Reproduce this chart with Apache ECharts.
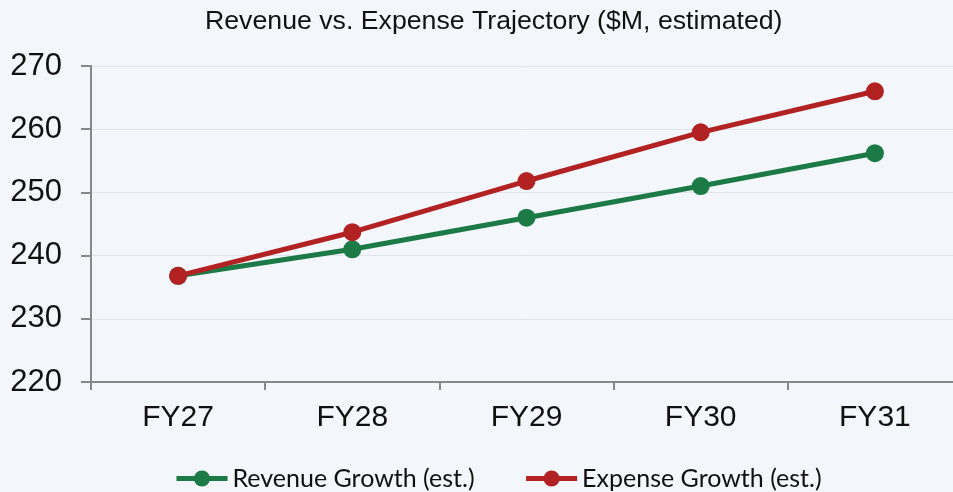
<!DOCTYPE html>
<html>
<head>
<meta charset="utf-8">
<script src="https://cdn.jsdelivr.net/npm/echarts@6/dist/echarts.min.js"></script>
<style>
  html, body { margin: 0; padding: 0; background: #f3f6fa; }
  #chart { width: 953px; height: 492px; }
</style>
</head>
<body>
<div id="chart"></div>
<script>
const categories = ['FY27', 'FY28', 'FY29', 'FY30', 'FY31'];
const revenue = [236.8, 241.0, 246.0, 251.0, 256.2];
const expense = [236.8, 243.7, 251.8, 259.5, 266.0];
const yTicks = [220, 230, 240, 250, 260, 270];

const chart = echarts.init(document.getElementById('chart'));

const option = {
  backgroundColor: '#f3f6fa',
  title: {
    text: 'Revenue vs. Expense Trajectory ($M, estimated)',
    left: 200,
    top: 3,
    textStyle: { color: '#111', fontSize: 26.7, fontWeight: 'normal', fontFamily: 'Liberation Sans' }
  },
  legend: {
    bottom: -4,
    left: 169,
    itemWidth: 51,
    itemHeight: 20,
    itemGap: 49,
    lineStyle: { width: 5 },
    textStyle: { color: '#111', fontSize: 25, fontFamily: 'Lato' },
    data: ['Revenue Growth (est.)', 'Expense Growth (est.)']
  },
  grid: { left: 91, width: 871, top: 66, bottom: 110, outerBoundsMode: 'none' },
  xAxis: {
    type: 'category',
    data: categories,
    boundaryGap: true,
    axisLine: { lineStyle: { color: '#888', width: 2 } },
    axisTick: { show: true, length: 8, lineStyle: { color: '#888', width: 2 } },
    axisLabel: { color: '#111', fontSize: 30, margin: 21, fontFamily: 'Liberation Sans' },
    splitLine: { show: false }
  },
  yAxis: {
    type: 'value',
    min: yTicks[0],
    max: yTicks[yTicks.length - 1],
    interval: 10,
    axisLine: { show: true, lineStyle: { color: '#888', width: 2 } },
    axisTick: { show: true, length: 10, lineStyle: { color: '#888', width: 2 } },
    axisLabel: { color: '#111', fontSize: 31, margin: 29, fontFamily: 'Liberation Sans' },
    splitLine: { lineStyle: { color: '#e0e4ec', width: 1 } }
  },
  series: [
    {
      name: 'Revenue Growth (est.)',
      type: 'line',
      data: revenue,
      symbol: 'circle',
      symbolSize: 18,
      lineStyle: { color: '#1b7a45', width: 5 },
      itemStyle: { color: '#1b7a45' }
    },
    {
      name: 'Expense Growth (est.)',
      type: 'line',
      data: expense,
      symbol: 'circle',
      symbolSize: 18,
      lineStyle: { color: '#b22222', width: 5 },
      itemStyle: { color: '#b22222' }
    }
  ]
};

chart.setOption(option);
window.addEventListener('resize', () => chart.resize());
</script>
</body>
</html>
